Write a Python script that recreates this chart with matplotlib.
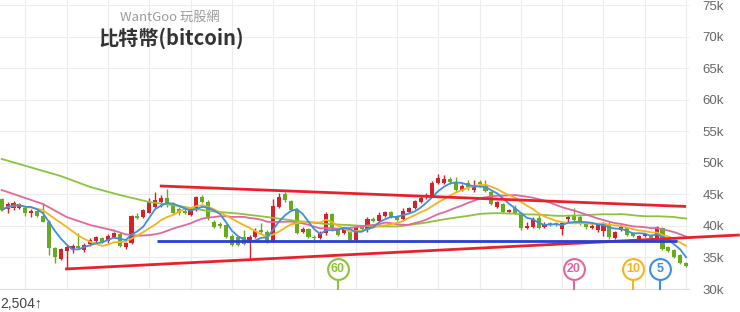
import numpy as np
import pandas as pd
import matplotlib
matplotlib.use("Agg")
import matplotlib.pyplot as plt
import matplotlib.transforms as mtransforms

# ---------------- data (USD) ----------------
opens = [44270, 42680, 42840, 42840, 42840, 42050, 42360, 41570, 40620, 36500,
         34760, 36020, 36340, 36820, 36180, 37130, 37610, 38080, 37610, 38240,
         38720, 36660, 37290, 41570, 41410, 42050, 43000, 43790, 44420, 43630,
         42680, 42360, 41730, 42680, 44580, 43790, 40620, 40300, 40140, 38400,
         38240, 38240, 37290, 38240, 39350, 39040, 37610, 43000, 45060, 43950,
         42520, 39040, 39510, 38240, 38080, 38880, 41890, 39510, 38880, 39040,
         37770, 39990, 39350, 41100, 40780, 41570, 42210, 41410, 41100, 42210,
         42840, 43790, 44580, 44740, 46800, 46800, 47440, 46800, 45690, 46800,
         45690, 46960, 46330, 45380, 43000, 43470, 42210, 42840, 42050, 39670,
         39830, 41250, 39830, 40460, 40460, 39510, 41100, 41730, 41410, 40300,
         39670, 39350, 39190, 40140, 38080, 39350, 39670, 38880, 37930, 38400,
         38560, 37930, 39670, 36660, 36180, 35390, 34120]
closes = [42520, 43470, 43630, 43470, 42050, 42360, 41570, 40620, 36500, 35070,
          36340, 36660, 36820, 36500, 36970, 37770, 38240, 37450, 38400, 38880,
          36820, 37290, 41570, 41250, 42520, 43790, 44110, 44420, 43310, 42050,
          42050, 42050, 42680, 44580, 43790, 41250, 39830, 39990, 38240, 36970,
          36970, 37130, 38240, 39190, 39040, 37450, 43160, 44580, 44110, 42520,
          38880, 39510, 38240, 38080, 38880, 41890, 39510, 38560, 39670, 37770,
          39830, 39510, 41100, 40780, 41730, 42210, 41410, 40940, 42360, 42840,
          43950, 44420, 44900, 46800, 47590, 47440, 46960, 45690, 46330, 46170,
          46330, 46640, 45530, 43470, 43790, 42210, 42520, 42050, 39670, 39990,
          41100, 39670, 40300, 40140, 40140, 40460, 41410, 40940, 40300, 39830,
          39990, 40140, 40460, 38240, 39040, 39830, 38560, 38400, 38400, 38720,
          38080, 39830, 36340, 36020, 35070, 34120, 33650]
highs = [44420, 43790, 43950, 43630, 43000, 42680, 42520, 43630, 40940, 36660,
         36500, 36970, 37130, 38880, 37290, 38080, 38400, 38240, 38720, 39040,
         39040, 37450, 41730, 42050, 42680, 44420, 45380, 44900, 45850, 43790,
         43000, 42680, 42840, 44740, 44900, 44110, 40940, 40620, 40300, 38720,
         38400, 39350, 38560, 39670, 40460, 39350, 44270, 45220, 45380, 44110,
         42840, 39830, 39670, 38560, 39190, 42210, 42050, 39670, 39830, 39190,
         39990, 40140, 41410, 41410, 42210, 42360, 42360, 41730, 42840, 43000,
         44110, 44900, 45220, 47120, 48230, 48070, 47750, 47750, 46640, 47280,
         47280, 47280, 47280, 45530, 43950, 43630, 42680, 43310, 42210, 40620,
         41410, 41730, 40620, 40620, 40620, 40620, 41730, 42840, 41730, 40620,
         40300, 40300, 40620, 40620, 39190, 40300, 39830, 39040, 38560, 38880,
         38720, 39990, 39830, 36820, 36340, 35550, 34280]
lows = [42360, 42050, 42520, 42680, 41570, 41410, 41410, 40620, 35390, 34120,
        34600, 33170, 35710, 36340, 35870, 36820, 37290, 37290, 37290, 38080,
        36660, 36340, 37130, 41100, 41250, 42050, 42840, 43000, 43000, 41890,
        41730, 41890, 41570, 42360, 43630, 40940, 39670, 39670, 38080, 36820,
        36820, 36970, 34600, 38080, 38880, 37290, 37450, 42840, 43790, 42360,
        38720, 38880, 38080, 37770, 37930, 38560, 39190, 38400, 38720, 37610,
        37610, 39190, 39040, 40620, 40620, 41410, 41250, 40780, 40940, 42050,
        42680, 43630, 44270, 44580, 46640, 46640, 46640, 45380, 45530, 45690,
        45380, 46170, 45380, 43310, 42840, 42050, 42050, 41890, 39350, 39510,
        39670, 39510, 39670, 39990, 39990, 38560, 40620, 40780, 40140, 39510,
        39510, 39040, 38400, 37930, 37930, 39190, 38400, 38240, 37770, 38240,
        37930, 37770, 36180, 35870, 34910, 33960, 33490]

ma20_head_idx = [0, 7, 11, 15]
ma20_head_val = [45690, 43470, 41410, 40140]
ma60_head_idx = [0, 5, 10, 15, 20, 25, 30, 35, 40, 45, 50, 55]
ma60_head_val = [50610, 49260, 47910, 46170, 44900, 43790, 43160, 42360, 41970, 41410, 40780, 40300]

# drawn trend lines (candle index, price)
upper_trend_idx = [26.8, 116]
upper_trend_val = [46330, 43080]
lower_trend_idx = [10.75, 125.1]
lower_trend_val = [33170, 38560]
support_idx = [26.3, 114.5]
support_val = [37650, 37650]

badge_labels = ["60", "20", "10", "5"]
badge_idx = [57, 97, 107, 111.6]

ytick_vals = [30000, 35000, 40000, 45000, 50000, 55000, 60000, 65000, 70000, 75000]
ytick_labels = ["30k", "35k", "40k", "45k", "50k", "55k", "60k", "65k", "70k", "75k"]

# ---------------- styling ----------------
RED = "#d4222b"
GREEN = "#6aaa1e"
C_MA5 = "#3f8ee0"
C_MA10 = "#f5b41e"
C_MA20 = "#e2679c"
C_MA60 = "#8cc43c"
C_TREND = "#e8222a"
C_SUPPORT = "#2a3fd2"

fig = plt.figure(figsize=(7.4, 3.12), dpi=100)
fig.patch.set_facecolor("white")
ax = fig.add_axes([0, 23 / 312, 688.5 / 740, 289 / 312])
ax.set_xlim(-0.29, 116.41)
ax.set_ylim(30000, 75807)

n = len(closes)
x = np.arange(n)
o = np.array(opens, float)
c = np.array(closes, float)
h = np.array(highs, float)
l = np.array(lows, float)
up = c >= o
cols = np.where(up, RED, GREEN)

# grid
ax.set_yticks(ytick_vals)
ax.set_yticklabels(ytick_labels)
ax.set_xticks(np.arange(4, 117, 7))
ax.set_xticklabels([])
ax.grid(True, color="#ececec", linewidth=0.8, zorder=0)
ax.set_axisbelow(True)
ax.yaxis.tick_right()
ax.tick_params(axis="y", length=0, pad=10, labelsize=9.5, labelcolor="#666666")
ax.tick_params(axis="x", length=0)
for lab in ax.get_yticklabels():
    lab.set_family(["Liberation Sans", "DejaVu Sans"])
for s in ["top", "left", "right"]:
    ax.spines[s].set_visible(False)
ax.spines["bottom"].set_color("#dddddd")
ax.spines["bottom"].set_linewidth(0.8)

# candles
ax.vlines(x, l, h, colors=cols, linewidth=1.0, zorder=2)
body_bottom = np.minimum(o, c)
body_h = np.maximum(np.abs(c - o), 170)
ax.bar(x, body_h, bottom=body_bottom, width=0.7, color=cols, linewidth=0, zorder=2)

# moving averages
cs = pd.Series(c)
ma5 = cs.rolling(5, min_periods=1).mean()
ma10 = cs.rolling(10, min_periods=1).mean()
ma20 = cs.rolling(20).mean()
ma60 = cs.rolling(60).mean()
ax.plot(x, ma60, color=C_MA60, lw=1.3, zorder=3)
ax.plot(ma60_head_idx + [59], ma60_head_val + [ma60.iloc[59]], color=C_MA60, lw=1.3, zorder=3)
ax.plot(x, ma20, color=C_MA20, lw=1.3, zorder=3)
ax.plot(ma20_head_idx + [19], ma20_head_val + [ma20.iloc[19]], color=C_MA20, lw=1.3, zorder=3)
ax.plot(x, ma10, color=C_MA10, lw=1.3, zorder=3)
ax.plot(x, ma5, color=C_MA5, lw=1.3, zorder=3)

# trend lines
ax.plot(upper_trend_idx, upper_trend_val, color=C_TREND, lw=2, zorder=4, solid_capstyle="butt")
ax.plot(lower_trend_idx, lower_trend_val, color=C_TREND, lw=2, zorder=4, clip_on=False,
        solid_capstyle="butt")
ax.plot(support_idx, support_val, color=C_SUPPORT, lw=2, zorder=4, solid_capstyle="butt")

# MA badges
trans = mtransforms.blended_transform_factory(ax.transData, ax.transAxes)
badge_cols = [C_MA60, C_MA20, C_MA10, C_MA5]
for lab, bi, bc in zip(badge_labels, badge_idx, badge_cols):
    ax.plot([bi, bi], [0, 0.036], color=bc, lw=1.5, transform=trans, zorder=5, clip_on=False)
    ax.plot([bi], [0.069], marker="o", ms=15, mfc="white", mec=bc, mew=1.5,
            transform=trans, zorder=6, clip_on=False)
    ax.text(bi, 0.069, lab, color=bc, fontsize=9, fontweight="bold", ha="center",
            va="center", transform=trans, zorder=7, family=["Liberation Sans", "DejaVu Sans"])

# texts
cjk = ["Noto Sans CJK TC", "DejaVu Sans"]
fig.text(170 / 740, 1 - 17 / 312, "WantGoo 玩股網", ha="center", va="center",
         fontsize=9.5, color="#9a9a9a", family=cjk)
fig.text(171 / 740, 1 - 38 / 312, "比特幣(bitcoin)", ha="center", va="center",
         fontsize=14.5, fontweight="bold", color="#333333", family=cjk)
fig.text(0.5 / 740, 1 - 311 / 312, "2,504↑", ha="left", va="bottom", fontsize=10,
         color="#444444", family=["Liberation Sans", "DejaVu Sans"])

fig.savefig("out.png", dpi=100, facecolor="white")
